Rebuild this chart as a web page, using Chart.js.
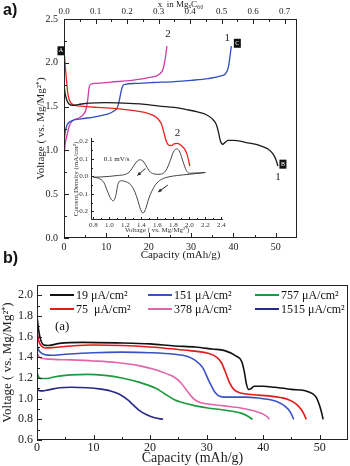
<!DOCTYPE html>
<html>
<head>
<meta charset="utf-8">
<script src="https://cdn.jsdelivr.net/npm/chart.js@4.4.1/dist/chart.umd.min.js"></script>
<style>
  body { margin: 0; background: #fff; }
  #wrap { position: relative; width: 350px; height: 466px; overflow: hidden; }
  canvas { position: absolute; }
  .lab { position: absolute; font-family: "Liberation Sans", Arial, sans-serif; font-weight: bold; font-size: 16px; color: #111; }
</style>
</head>
<body>
<div id="wrap">
  <canvas id="plotInset" width="180" height="112" style="left:50px;top:128px"></canvas>
  <canvas id="plotA" width="350" height="270" style="left:0px;top:0px"></canvas>
  <canvas id="plotB" width="350" height="196" style="left:0px;top:270px"></canvas>
  <div class="lab" style="left:3px;top:1px">a)</div>
  <div class="lab" style="left:3px;top:249px">b)</div>
  <div style="position:absolute;left:55px;top:318px;font:13px 'Liberation Serif', serif;color:#111">(a)</div>
</div>
<script>
const serif = '"Liberation Serif", "Times New Roman", serif';

// ---- a) galvanostatic curves, capacity (mAh/g) vs voltage
const capDis1 = [0, 0.3, 0.7, 1.2, 2, 3.5, 6, 9.5, 14, 18, 22.5, 26, 29, 31.5, 33.5, 35, 35.9, 36.5, 36.9, 37.5, 38, 38.7, 40, 43, 46, 48, 49.2, 50, 50.5];
const voltDis1 = [1.75, 1.64, 1.57, 1.53, 1.515, 1.525, 1.54, 1.545, 1.54, 1.53, 1.505, 1.49, 1.465, 1.44, 1.41, 1.36, 1.3, 1.2, 1.11, 1.07, 1.09, 1.115, 1.115, 1.09, 1.06, 1.02, 0.97, 0.9, 0.82];

const capDis2 = [0, 0.2, 0.5, 0.9, 1.4, 2.2, 4, 8, 13, 17, 20, 22, 23, 23.6, 24.1, 24.6, 25.3, 26, 26.8, 27.6, 28.4, 29, 29.4, 29.7];
const voltDis2 = [2.16, 2.02, 1.85, 1.65, 1.56, 1.52, 1.505, 1.49, 1.475, 1.45, 1.42, 1.37, 1.3, 1.2, 1.11, 1.065, 1.055, 1.075, 1.08, 1.06, 1.02, 0.96, 0.89, 0.82];

const capCha1 = [0, 0.2, 0.5, 1, 2, 4, 7, 10, 11.8, 12.6, 13.1, 13.5, 13.9, 14.5, 17, 21, 26, 30, 34, 37, 38.2, 38.8, 39.2, 39.5];
const voltCha1 = [1.05, 1.18, 1.26, 1.31, 1.34, 1.36, 1.38, 1.41, 1.45, 1.49, 1.58, 1.68, 1.74, 1.755, 1.765, 1.775, 1.785, 1.8, 1.82, 1.85, 1.88, 1.95, 2.08, 2.19];

const capCha2 = [0, 0.1, 0.3, 0.7, 1.2, 2, 3.5, 4.6, 5.2, 5.6, 5.9, 6.3, 7.5, 11, 16, 20, 22.5, 23.4, 23.9, 24.3];
const voltCha2 = [0.88, 0.98, 1.08, 1.17, 1.27, 1.34, 1.37, 1.41, 1.47, 1.58, 1.71, 1.755, 1.765, 1.78, 1.8, 1.83, 1.87, 1.93, 2.05, 2.19];

// ---- inset: cyclic voltammogram, voltage vs current density (mA/cm2)
const cvVoltUp = [0.8, 0.9, 1.0, 1.1, 1.2, 1.26, 1.31, 1.35, 1.38, 1.42, 1.46, 1.5, 1.55, 1.62, 1.68, 1.72, 1.76, 1.8, 1.84, 1.88, 1.92, 1.96, 2.0, 2.1, 2.2];
const cvCurUp = [-0.005, -0.003, 0.0, 0.005, 0.012, 0.03, 0.065, 0.088, 0.095, 0.088, 0.06, 0.03, 0.015, 0.012, 0.02, 0.045, 0.09, 0.14, 0.158, 0.14, 0.085, 0.035, 0.018, 0.02, 0.022];
const cvVoltDown = [0.8, 0.86, 0.93, 0.98, 1.02, 1.05, 1.08, 1.11, 1.15, 1.2, 1.26, 1.31, 1.35, 1.39, 1.42, 1.45, 1.49, 1.53, 1.58, 1.64, 1.72, 1.85, 2.0, 2.2];
const cvCurDown = [-0.005, -0.01, -0.035, -0.09, -0.13, -0.14, -0.11, -0.04, -0.025, -0.03, -0.045, -0.08, -0.13, -0.19, -0.21, -0.19, -0.13, -0.085, -0.045, -0.02, -0.005, 0.005, 0.012, 0.022];

// ---- b) discharge at different current densities
const rateLabels = ['19 μA/cm²', '75  μA/cm²', '151 μA/cm²', '378 μA/cm²', '757 μA/cm²', '1515 μA/cm²'];
const rateColors = ['#111111', '#e51a1a', '#3b52c4', '#e066a8', '#1b9a3d', '#262a85'];

const capB19 = [0, 0.3, 0.7, 1.2, 2, 4, 8, 14, 20, 24.3, 28, 31, 33.2, 35.3, 36.2, 36.7, 37, 37.4, 37.8, 38.4, 40, 42, 45, 47.8, 49.3, 50, 50.4, 50.6];
const voltB19 = [1.8, 1.66, 1.56, 1.52, 1.515, 1.535, 1.545, 1.54, 1.53, 1.51, 1.5, 1.48, 1.465, 1.41, 1.36, 1.25, 1.15, 1.09, 1.095, 1.12, 1.12, 1.11, 1.09, 1.07, 1.02, 0.93, 0.85, 0.8];
const capB75 = [0, 0.3, 0.8, 1.5, 3, 6, 10, 15, 20, 24.3, 27, 30.2, 31.8, 32.6, 33.3, 34, 34.8, 36, 38, 42, 44.5, 45.8, 46.8, 47.3, 47.6];
const voltB75 = [1.66, 1.56, 1.51, 1.49, 1.495, 1.51, 1.52, 1.515, 1.5, 1.48, 1.465, 1.44, 1.4, 1.35, 1.26, 1.16, 1.09, 1.055, 1.04, 1.02, 0.99, 0.95, 0.89, 0.84, 0.8];
const capB151 = [0, 0.3, 0.8, 1.5, 2.5, 5, 10, 15, 20, 24.3, 26.5, 28, 29.3, 30.5, 31.5, 32.5, 34, 37, 40, 42.5, 44, 44.8, 45.4];
const voltB151 = [1.52, 1.47, 1.44, 1.425, 1.42, 1.43, 1.445, 1.45, 1.445, 1.43, 1.41, 1.37, 1.3, 1.16, 1.06, 1.02, 1.015, 1.015, 1.0, 0.97, 0.92, 0.87, 0.8];
const capB378 = [0, 0.3, 0.8, 1.5, 3, 6, 10, 14, 18, 21, 23, 24.5, 25.5, 26.5, 27.5, 28.5, 30, 33, 36, 38.5, 40, 40.8, 41.1];
const voltB378 = [1.45, 1.41, 1.39, 1.385, 1.38, 1.375, 1.365, 1.35, 1.32, 1.28, 1.24, 1.2, 1.15, 1.08, 1.01, 0.97, 0.95, 0.93, 0.91, 0.88, 0.85, 0.82, 0.8];
const capB757 = [0, 0.3, 0.8, 1.5, 3, 6, 9, 12, 15, 18, 21, 22.5, 24.3, 27.3, 30.2, 33, 36.1, 37.3, 38.1];
const voltB757 = [1.25, 1.21, 1.195, 1.195, 1.21, 1.23, 1.235, 1.225, 1.2, 1.16, 1.1, 1.05, 0.99, 0.94, 0.91, 0.89, 0.86, 0.83, 0.8];
const capB1515 = [0, 0.3, 1, 2, 4, 6, 9, 11, 13, 14.5, 16, 17, 18, 19.4, 20.8, 22.3];
const voltB1515 = [1.1, 1.08, 1.075, 1.085, 1.105, 1.11, 1.105, 1.095, 1.075, 1.045, 0.99, 0.94, 0.89, 0.845, 0.815, 0.8];

const pts = (xs, ys) => xs.map((x, i) => ({x: x, y: ys[i]}));

// inward tick marks + frame
const inTicks = {
  id: 'inTicks',
  afterDatasetsDraw(chart, args, o) {
    const ctx = chart.ctx, a = chart.chartArea;
    ctx.save();
    ctx.strokeStyle = o.color || '#222';
    ctx.lineWidth = 1;
    if (o.box) {
      ctx.strokeRect(a.left + 0.5, a.top + 0.5, a.right - a.left - 1, a.bottom - a.top - 1);
    } else {
      ctx.beginPath();
      ctx.moveTo(a.left + 0.5, a.top);
      ctx.lineTo(a.left + 0.5, a.bottom - 0.5);
      ctx.lineTo(a.right, a.bottom - 0.5);
      ctx.stroke();
    }
    Object.values(chart.scales).forEach(s => {
      const vals = s.ticks.map(t => t.value);
      if (vals.length < 2) return;
      const step = vals[1] - vals[0];
      const minors = [vals[0] - step / 2].concat(vals.map(v => v + step / 2)).filter(v => v > s.min && v < s.max);
      const mark = (v, len) => {
        const p = Math.round(s.getPixelForValue(v)) + 0.5;
        ctx.beginPath();
        if (s.position === 'bottom') { ctx.moveTo(p, a.bottom); ctx.lineTo(p, a.bottom - len); }
        else if (s.position === 'top') { ctx.moveTo(p, a.top); ctx.lineTo(p, a.top + len); }
        else { ctx.moveTo(a.left, p); ctx.lineTo(a.left + len, p); }
        ctx.stroke();
      };
      vals.forEach(v => mark(v, o.major));
      minors.forEach(v => mark(v, o.minor));
    });
    ctx.restore();
  }
};

// letters and cycle numbers on panel a
const notesA = [
  {text: 'A', x: 0, y: 2.16, dx: -3, dy: 2, box: true},
  {text: 'C', x: 39.5, y: 2.2, dx: 6, dy: -2, box: true},
  {text: 'B', x: 50.5, y: 0.82, dx: 5, dy: -2, box: true},
  {text: '1', x: 39.5, y: 2.2, dx: -4, dy: -7},
  {text: '2', x: 24.3, y: 2.19, dx: 1, dy: -12},
  {text: '2', x: 26.8, y: 1.08, dx: 0, dy: -10},
  {text: '1', x: 50.5, y: 0.82, dx: 0, dy: 11}
];
const notesPlugin = {
  id: 'notes',
  afterDraw(chart) {
    const ctx = chart.ctx, sx = chart.scales.x, sy = chart.scales.y;
    ctx.save();
    ctx.textAlign = 'center';
    ctx.textBaseline = 'middle';
    notesA.forEach(n => {
      const px = sx.getPixelForValue(n.x) + n.dx, py = sy.getPixelForValue(n.y) + n.dy;
      if (n.box) {
        ctx.fillStyle = '#111';
        ctx.fillRect(px - 3.5, py - 4.5, 7, 9);
        ctx.fillStyle = '#fff';
        ctx.font = '6px ' + serif;
      } else {
        ctx.fillStyle = '#222';
        ctx.font = '11px ' + serif;
      }
      ctx.fillText(n.text, px, py);
    });
    ctx.restore();
  }
};

// inset arrows + scan rate
const cvArrows = [[1.45, 0.045, 1.35, 0.005], [1.73, -0.05, 1.61, -0.09]];
const insetNotes = {
  id: 'insetNotes',
  afterDraw(chart) {
    const ctx = chart.ctx, sx = chart.scales.x, sy = chart.scales.y;
    ctx.save();
    ctx.strokeStyle = '#222';
    ctx.fillStyle = '#222';
    ctx.lineWidth = 1;
    cvArrows.forEach(ar => {
      const x1 = sx.getPixelForValue(ar[0]), y1 = sy.getPixelForValue(ar[1]);
      const x2 = sx.getPixelForValue(ar[2]), y2 = sy.getPixelForValue(ar[3]);
      const ang = Math.atan2(y2 - y1, x2 - x1);
      ctx.beginPath(); ctx.moveTo(x1, y1); ctx.lineTo(x2, y2); ctx.stroke();
      ctx.beginPath();
      ctx.moveTo(x2, y2);
      ctx.lineTo(x2 - 4 * Math.cos(ang - 0.45), y2 - 4 * Math.sin(ang - 0.45));
      ctx.lineTo(x2 - 4 * Math.cos(ang + 0.45), y2 - 4 * Math.sin(ang + 0.45));
      ctx.closePath(); ctx.fill();
    });
    ctx.font = '7px ' + serif;
    ctx.textAlign = 'center';
    ctx.textBaseline = 'middle';
    ctx.fillText('0.1 mV/s', sx.getPixelForValue(1.09), sy.getPixelForValue(0.1));
    ctx.restore();
  }
};

// legend for panel b, two rows by three columns inside the frame
const legendB = {
  id: 'legendB',
  afterDraw(chart) {
    const ctx = chart.ctx, a = chart.chartArea;
    const colX = [13, 111, 218], rowY = [10, 24];
    ctx.save();
    ctx.font = '12px ' + serif;
    ctx.textBaseline = 'middle';
    ctx.fillStyle = '#111';
    chart.data.datasets.forEach((ds, i) => {
      const x = a.left + colX[Math.floor(i / 2)], y = a.top + rowY[i % 2];
      ctx.strokeStyle = ds.borderColor;
      ctx.lineWidth = 2;
      ctx.beginPath(); ctx.moveTo(x, y); ctx.lineTo(x + 24, y); ctx.stroke();
      ctx.fillText(ds.label, x + 26, y + 1);
    });
    ctx.restore();
  }
};

const tickFont = size => ({family: serif, size: size, lineHeight: 1});
const noGrid = {display: false, drawTicks: false};
const baseOpts = {
  responsive: false,
  animation: false,
  devicePixelRatio: 1,
  elements: {point: {radius: 0}, line: {cubicInterpolationMode: 'monotone'}},
  events: []
};

new Chart(document.getElementById('plotA'), {
  type: 'line',
  data: {
    datasets: [
      {data: pts(capDis1, voltDis1), borderColor: '#1c1c1c', borderWidth: 1.3},
      {data: pts(capDis2, voltDis2), borderColor: '#e8231f', borderWidth: 1.3},
      {data: pts(capCha1, voltCha1), borderColor: '#2f4fbf', borderWidth: 1.3},
      {data: pts(capCha2, voltCha2), borderColor: '#cc3fa6', borderWidth: 1.3}
    ]
  },
  options: Object.assign({}, baseOpts, {
    layout: {padding: {left: 0, top: 0, right: 53, bottom: 0}, autoPadding: false},
    plugins: {legend: {display: false}, tooltip: {enabled: false}, inTicks: {box: true, major: 5, minor: 3}},
    scales: {
      x: {
        type: 'linear', position: 'bottom', min: 0, max: 55,
        grid: noGrid, border: {display: false},
        ticks: {stepSize: 10, includeBounds: false, padding: 4, color: '#222', font: tickFont(10)},
        title: {display: true, text: 'Capacity (mAh/g)', color: '#222', font: tickFont(11), padding: {top: 0, bottom: 9.5}},
        afterFit: s => { s.height = 32; }
      },
      x2: {
        type: 'linear', axis: 'x', position: 'top', min: 0, max: 0.739,
        grid: noGrid, border: {display: false},
        ticks: {stepSize: 0.1, includeBounds: false, padding: 2.5, color: '#222', font: tickFont(9), callback: v => v.toFixed(1)},
        title: {display: true, text: 'x  in MgₓC₆₀', color: '#222', font: tickFont(9), padding: {top: 0.5, bottom: 0}},
        afterFit: s => { s.height = 19; }
      },
      y: {
        type: 'linear', position: 'left', min: 0, max: 2.5,
        grid: noGrid, border: {display: false},
        ticks: {stepSize: 0.5, includeBounds: false, padding: 6, color: '#222', font: tickFont(10), callback: v => v.toFixed(1)},
        title: {display: true, text: 'Voltage ( vs. Mg/Mg²⁺)', color: '#222', font: tickFont(11), padding: {top: 35.5, bottom: 0}},
        afterFit: s => { s.width = 64; }
      }
    }
  }),
  plugins: [inTicks, notesPlugin]
});

new Chart(document.getElementById('plotInset'), {
  type: 'line',
  data: {
    datasets: [
      {data: pts(cvVoltUp, cvCurUp), borderColor: '#444', borderWidth: 1},
      {data: pts(cvVoltDown, cvCurDown), borderColor: '#444', borderWidth: 1}
    ]
  },
  options: Object.assign({}, baseOpts, {
    layout: {padding: {left: 0, top: 10, right: 7, bottom: 0}, autoPadding: false},
    plugins: {legend: {display: false}, tooltip: {enabled: false}, inTicks: {box: false, major: 3, minor: 2}},
    scales: {
      x: {
        type: 'linear', position: 'bottom', min: 0.77, max: 2.42,
        grid: noGrid, border: {display: false},
        ticks: {stepSize: 0.2, includeBounds: false, padding: 1.5, color: '#333', font: tickFont(7), callback: v => v.toFixed(1)},
        title: {display: true, text: 'Voltage ( vs. Mg/Mg²⁺)', color: '#333', font: tickFont(7), padding: {top: 0, bottom: 6.5}},
        afterFit: s => { s.height = 20; }
      },
      y: {
        type: 'linear', position: 'left', min: -0.25, max: 0.22,
        grid: noGrid, border: {display: false},
        ticks: {stepSize: 0.1, includeBounds: false, padding: 3, color: '#333', font: tickFont(7), callback: v => v.toFixed(1)},
        title: {display: true, text: 'Current Density (mA/cm²)', color: '#333', font: tickFont(7), padding: {top: 22.5, bottom: 0}},
        afterFit: s => { s.width = 41; }
      }
    }
  }),
  plugins: [inTicks, insetNotes]
});

const seriesB = [[capB19, voltB19], [capB75, voltB75], [capB151, voltB151], [capB378, voltB378], [capB757, voltB757], [capB1515, voltB1515]];

new Chart(document.getElementById('plotB'), {
  type: 'line',
  data: {
    datasets: seriesB.map((s, i) => ({
      label: rateLabels[i],
      data: pts(s[0], s[1]),
      borderColor: rateColors[i],
      borderWidth: 1.6
    }))
  },
  options: Object.assign({}, baseOpts, {
    layout: {padding: {left: 0, top: 15, right: 2, bottom: 0}, autoPadding: false},
    plugins: {legend: {display: false}, tooltip: {enabled: false}, inTicks: {box: true, major: 5, minor: 3}},
    scales: {
      x: {
        type: 'linear', position: 'bottom', min: 0, max: 55,
        grid: noGrid, border: {display: false},
        ticks: {stepSize: 10, includeBounds: false, padding: 2, color: '#222', font: tickFont(12)},
        title: {display: true, text: 'Capacity (mAh/g)', color: '#222', font: tickFont(14), padding: {top: 0, bottom: 1}},
        afterFit: s => { s.height = 26; }
      },
      y: {
        type: 'linear', position: 'left', min: 0.6, max: 2.1,
        grid: noGrid, border: {display: false},
        ticks: {stepSize: 0.2, includeBounds: false, padding: 4, color: '#222', font: tickFont(12), callback: v => v.toFixed(1)},
        title: {display: true, text: 'Voltage ( vs. Mg/Mg²⁺)', color: '#222', font: tickFont(13), padding: {top: 1.5, bottom: 0}},
        afterFit: s => { s.width = 37; }
      }
    }
  }),
  plugins: [inTicks, legendB]
});
</script>
</body>
</html>
